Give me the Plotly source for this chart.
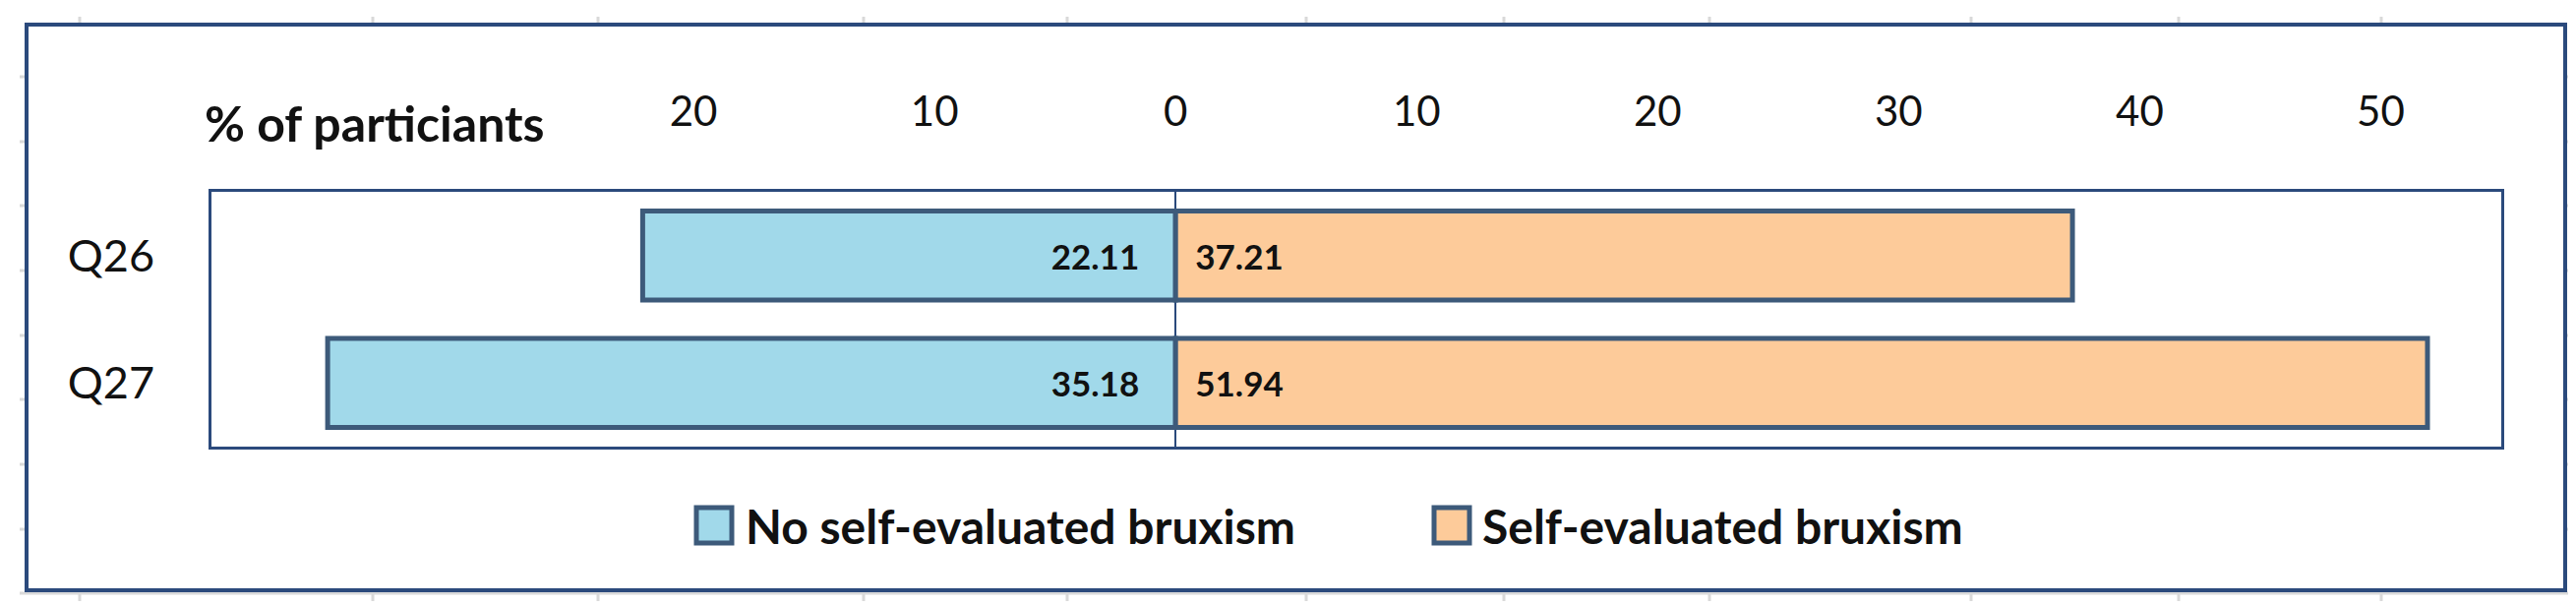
import plotly.graph_objects as go

# --- data ---
questions = ["Q26", "Q27"]
no_brux = [22.11, 35.18]
self_brux = [37.21, 51.94]
tick_vals = [-20, -10, 0, 10, 20, 30, 40, 50]
tick_text = ["20", "10", "0", "10", "20", "30", "40", "50"]
series_names = ["No self-evaluated bruxism", "Self-evaluated bruxism"]
colors = ["#a1d9ea", "#fdcb9a"]

W, H = 2619, 615
L, R, T, B = 207, 84, 187, 169
PW, PH = W - L - R, H - T - B
FONT = "Lato"
NAVY = "#2b4a7c"
EDGE = "#3d5a7a"
NBSP = "\u00a0"

def px(x):
    return (x - L) / PW

def py(y):
    return (H - B - y) / PH

fig = go.Figure()

# blue bars go to the left (negative side)
fig.add_trace(go.Bar(
    y=questions, x=[-v for v in no_brux], orientation="h",
    name=series_names[0], showlegend=False,
    text=[f"{v:.2f}" + NBSP * 4 for v in no_brux],
    textposition="inside", insidetextanchor="start",
    textfont=dict(family=FONT, size=35, color="#111111", weight="bold"),
    marker=dict(color=colors[0], line=dict(color=EDGE, width=5)),
    hoverinfo="skip",
))
fig.add_trace(go.Bar(
    y=questions, x=self_brux, orientation="h",
    name=series_names[1], showlegend=False,
    text=[NBSP * 2 + f"{v:.2f}" for v in self_brux],
    textposition="inside", insidetextanchor="start",
    textfont=dict(family=FONT, size=35, color="#111111", weight="bold"),
    marker=dict(color=colors[1], line=dict(color=EDGE, width=5)),
    hoverinfo="skip",
))

# excel cell gridlines behind the chart + white outer frame
shapes = []
for cx in [73, 371, 600, 870, 1077, 1320, 1521, 1730, 1996, 2207, 2413]:
    shapes.append(dict(type="line", xref="paper", yref="paper", layer="below",
                       x0=px(cx), x1=px(cx), y0=py(9), y1=py(603),
                       line=dict(color="#d9d9d9", width=3)))
for ry in [70, 136, 201, 267, 333, 398, 464, 530, 595]:
    shapes.append(dict(type="line", xref="paper", yref="paper", layer="below",
                       x0=px(12), x1=px(2612), y0=py(ry), y1=py(ry),
                       line=dict(color="#d9d9d9", width=3)))
shapes.append(dict(type="rect", xref="paper", yref="paper", layer="below",
                   x0=px(19), x1=px(2600), y0=py(17), y1=py(592),
                   fillcolor="white", line=dict(color=NAVY, width=4)))

# legend drawn by hand so the swatches can be as big as in the original
annotations = [dict(text="<b>% of particiants</b>", xref="paper", yref="paper",
                    x=px(373), y=py(117), xanchor="center", yanchor="middle",
                    showarrow=False, font=dict(family=FONT, size=50))]
for sx, tx, name, col in zip([700, 1450], [748, 1497], series_names, colors):
    shapes.append(dict(type="rect", xref="paper", yref="paper",
                       x0=px(sx), x1=px(sx + 36), y0=py(508), y1=py(544),
                       fillcolor=col, line=dict(color=EDGE, width=5)))
    annotations.append(dict(text=f"<b>{name}</b>", xref="paper", yref="paper",
                            x=px(tx), y=py(526), xanchor="left", yanchor="middle",
                            showarrow=False, font=dict(family=FONT, size=48)))

fig.update_layout(
    width=W, height=H,
    margin=dict(l=L, r=R, t=T, b=B),
    barmode="relative", bargap=0.3,
    paper_bgcolor="white", plot_bgcolor="white",
    font=dict(family=FONT, size=42, color="#111111"),
    shapes=shapes, annotations=annotations,
    showlegend=False,
)

fig.update_xaxes(
    range=[-40, 55], side="top",
    tickvals=tick_vals, ticktext=tick_text,
    ticks="", ticklabelstandoff=47,
    showgrid=False, zeroline=True, zerolinecolor=NAVY, zerolinewidth=2,
    showline=True, mirror=True, linecolor=NAVY, linewidth=3,
    tickfont=dict(family=FONT, size=42),
)
fig.update_yaxes(
    autorange="reversed", ticks="", ticklabelstandoff=46,
    showgrid=False, showline=True, mirror=True, linecolor=NAVY, linewidth=3,
    tickfont=dict(family=FONT, size=45),
)

fig.write_html("out.html")
